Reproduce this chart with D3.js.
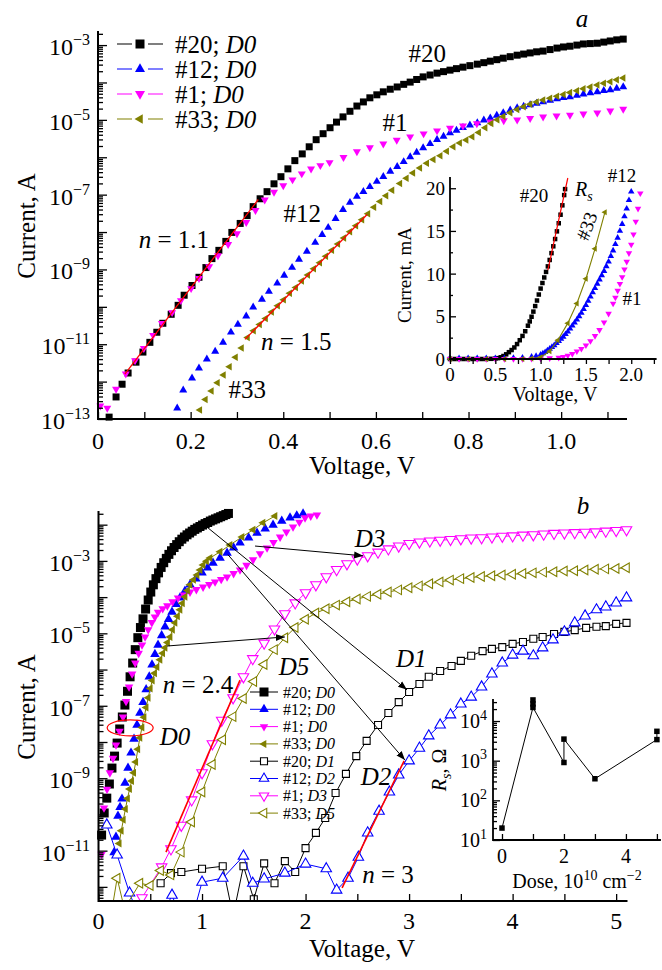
<!DOCTYPE html>
<html>
<head>
<meta charset="utf-8">
<title>I-V characteristics</title>
<script src="https://cdn.jsdelivr.net/npm/d3@7"></script>
<style>
  body { margin: 0; background: #fff; }
  svg { display: block; }
  svg text { font-family: "Liberation Serif", "DejaVu Serif", serif; }
</style>
</head>
<body>
<svg id="chart" width="662" height="970" font-family="Liberation Serif, DejaVu Serif, serif"></svg>
<script>
"use strict";

// ---------- panel a: [V, log10(I/A)], as-grown samples ----------
var a20 = [[0.024,-12.95],[0.039,-12.41],[0.052,-12.07],[0.065,-11.77],[0.082,-11.48],[0.097,-11.21],[0.112,-10.95],[0.127,-10.68],[0.140,-10.44],[0.158,-10.20],[0.173,-9.96],[0.186,-9.69],[0.203,-9.43],[0.218,-9.21],[0.233,-8.95],[0.246,-8.71],[0.261,-8.49],[0.276,-8.25],[0.289,-8.01],[0.307,-7.77],[0.322,-7.56],[0.335,-7.32],[0.350,-7.11],[0.365,-6.92],[0.380,-6.71],[0.395,-6.52],[0.410,-6.31],[0.425,-6.09],[0.441,-5.91],[0.456,-5.72],[0.471,-5.53],[0.486,-5.37],[0.501,-5.21],[0.515,-5.06],[0.529,-4.92],[0.544,-4.77],[0.559,-4.63],[0.573,-4.52],[0.587,-4.41],[0.602,-4.33],[0.616,-4.25],[0.631,-4.18],[0.646,-4.12],[0.660,-4.05],[0.674,-3.99],[0.688,-3.92],[0.702,-3.85],[0.717,-3.80],[0.732,-3.75],[0.746,-3.71],[0.760,-3.67],[0.774,-3.63],[0.788,-3.59],[0.803,-3.55],[0.819,-3.51],[0.833,-3.47],[0.847,-3.43],[0.861,-3.39],[0.875,-3.35],[0.890,-3.31],[0.905,-3.27],[0.919,-3.24],[0.933,-3.21],[0.947,-3.18],[0.961,-3.16],[0.976,-3.12],[0.991,-3.08],[1.005,-3.05],[1.019,-3.03],[1.034,-3.00],[1.048,-2.97],[1.063,-2.96],[1.078,-2.95],[1.092,-2.92],[1.106,-2.89],[1.120,-2.86],[1.134,-2.84]];
var a12 = [[0.171,-12.71],[0.184,-12.23],[0.203,-11.91],[0.218,-11.64],[0.235,-11.40],[0.253,-11.19],[0.270,-10.95],[0.287,-10.68],[0.302,-10.47],[0.320,-10.25],[0.335,-10.01],[0.354,-9.80],[0.369,-9.59],[0.387,-9.37],[0.402,-9.16],[0.419,-8.95],[0.434,-8.73],[0.451,-8.52],[0.469,-8.28],[0.484,-8.07],[0.497,-7.88],[0.513,-7.64],[0.529,-7.40],[0.544,-7.21],[0.559,-7.05],[0.573,-6.92],[0.587,-6.79],[0.602,-6.65],[0.616,-6.52],[0.631,-6.38],[0.646,-6.25],[0.660,-6.12],[0.674,-5.99],[0.688,-5.87],[0.702,-5.75],[0.717,-5.64],[0.732,-5.53],[0.746,-5.44],[0.760,-5.35],[0.774,-5.28],[0.788,-5.21],[0.803,-5.14],[0.819,-5.08],[0.833,-5.01],[0.847,-4.95],[0.861,-4.88],[0.875,-4.81],[0.890,-4.74],[0.905,-4.68],[0.919,-4.64],[0.933,-4.60],[0.947,-4.56],[0.961,-4.52],[0.976,-4.48],[0.991,-4.44],[1.005,-4.41],[1.019,-4.39],[1.034,-4.35],[1.048,-4.31],[1.063,-4.28],[1.078,-4.25],[1.092,-4.22],[1.106,-4.20],[1.120,-4.16],[1.134,-4.12]];
var a1 = [[0.005,-12.65],[0.020,-12.71],[0.039,-12.20],[0.060,-11.79],[0.080,-11.44],[0.099,-11.11],[0.119,-10.76],[0.138,-10.44],[0.160,-10.15],[0.179,-9.83],[0.201,-9.51],[0.218,-9.24],[0.240,-8.92],[0.259,-8.63],[0.281,-8.33],[0.300,-8.04],[0.320,-7.74],[0.340,-7.42],[0.360,-7.14],[0.380,-6.93],[0.400,-6.76],[0.420,-6.60],[0.440,-6.44],[0.460,-6.31],[0.480,-6.22],[0.500,-6.14],[0.530,-6.00],[0.559,-5.85],[0.587,-5.74],[0.616,-5.64],[0.645,-5.54],[0.674,-5.45],[0.703,-5.37],[0.732,-5.29],[0.760,-5.22],[0.788,-5.16],[0.818,-5.10],[0.847,-5.05],[0.876,-5.02],[0.905,-5.00],[0.933,-4.96],[0.961,-4.92],[0.990,-4.89],[1.019,-4.87],[1.048,-4.84],[1.078,-4.81],[1.106,-4.76],[1.134,-4.71]];
var a33 = [[0.220,-12.76],[0.232,-12.48],[0.245,-12.25],[0.258,-12.03],[0.271,-11.82],[0.284,-11.60],[0.297,-11.35],[0.310,-11.10],[0.323,-10.82],[0.336,-10.64],[0.349,-10.47],[0.362,-10.31],[0.375,-10.14],[0.388,-9.97],[0.401,-9.81],[0.414,-9.64],[0.427,-9.48],[0.440,-9.31],[0.453,-9.15],[0.466,-8.98],[0.479,-8.82],[0.492,-8.65],[0.505,-8.49],[0.518,-8.32],[0.531,-8.16],[0.544,-7.99],[0.557,-7.83],[0.570,-7.67],[0.583,-7.51],[0.596,-7.34],[0.609,-7.18],[0.622,-7.03],[0.635,-6.88],[0.652,-6.70],[0.666,-6.56],[0.680,-6.42],[0.695,-6.29],[0.710,-6.16],[0.724,-6.06],[0.739,-5.96],[0.753,-5.84],[0.767,-5.72],[0.781,-5.62],[0.795,-5.54],[0.808,-5.45],[0.822,-5.34],[0.836,-5.21],[0.849,-5.10],[0.862,-5.00],[0.875,-4.91],[0.890,-4.81],[0.905,-4.72],[0.919,-4.65],[0.933,-4.58],[0.947,-4.52],[0.961,-4.47],[0.976,-4.42],[0.991,-4.37],[1.005,-4.32],[1.019,-4.27],[1.034,-4.22],[1.048,-4.17],[1.063,-4.12],[1.078,-4.07],[1.092,-4.02],[1.106,-3.98],[1.120,-3.93],[1.134,-3.88]];
// ideality fits, [V, log10 I]
var fitA20 = [[0.058,-11.80],[0.346,-7.13]];
var fitA33 = [[0.3175,-10.87],[0.581,-7.53]];

// ---------- inset a: [V, I/mA], linear scale ----------
var in20 = [[0.00,0],[0.05,0],[0.10,0],[0.15,0],[0.20,0],[0.25,0],[0.30,0],[0.35,0],[0.40,0],[0.45,0.02],[0.50,0.05],[0.53,0.10],[0.56,0.20],[0.59,0.35],[0.62,0.55],[0.65,0.80],[0.68,1.05],[0.71,1.35],[0.74,1.75],[0.77,2.20],[0.80,2.70],[0.83,3.25],[0.86,3.90],[0.88,4.40],[0.90,4.95],[0.92,5.55],[0.94,6.20],[0.96,6.85],[0.98,7.55],[1.00,8.25],[1.02,8.90],[1.04,9.55],[1.06,10.20],[1.08,10.85],[1.10,11.60],[1.12,12.40],[1.14,13.20],[1.16,14.05],[1.18,14.95],[1.20,15.90],[1.22,16.90],[1.24,18.00],[1.26,19.20],[1.27,19.90]];
var in12 = [[0.00,0.10],[0.10,0.10],[0.20,0.10],[0.30,0.10],[0.40,0.10],[0.50,0.10],[0.60,0.10],[0.70,0.12],[0.80,0.15],[0.90,0.25],[0.95,0.35],[1.000,0.50],[1.025,0.65],[1.050,0.80],[1.075,1.00],[1.100,1.20],[1.125,1.40],[1.150,1.60],[1.175,1.85],[1.200,2.10],[1.225,2.35],[1.250,2.60],[1.275,2.90],[1.300,3.20],[1.325,3.55],[1.350,3.90],[1.375,4.25],[1.400,4.60],[1.425,5.00],[1.450,5.40],[1.475,5.85],[1.500,6.30],[1.525,6.80],[1.550,7.30],[1.575,7.80],[1.600,8.30],[1.625,8.80],[1.650,9.30],[1.675,9.80],[1.700,10.30],[1.725,10.85],[1.750,11.40],[1.775,12.05],[1.800,12.70],[1.825,13.45],[1.850,14.20],[1.875,15.00],[1.900,15.80],[1.925,16.70],[1.950,17.60],[1.975,18.60],[2.000,19.60]];
var in1 = [[0.00,0],[0.10,0],[0.20,0],[0.30,0],[0.40,0],[0.50,0],[0.60,0],[0.70,0],[0.80,0],[0.90,0.02],[1.00,0.05],[1.10,0.10],[1.20,0.15],[1.25,0.25],[1.30,0.40],[1.35,0.60],[1.40,0.90],[1.45,1.20],[1.50,1.60],[1.55,2.10],[1.60,2.70],[1.65,3.40],[1.70,4.30],[1.75,5.30],[1.80,6.50],[1.825,7.20],[1.85,8.00],[1.875,8.80],[1.90,9.60],[1.925,10.50],[1.95,11.40],[1.975,12.40],[2.00,13.40],[2.025,14.60],[2.05,16.10],[2.075,17.60],[2.10,19.40]];
var in33 = [[0.00,0],[0.20,0],[0.40,0],[0.60,0],[0.80,0],[0.90,0.05],[1.00,0.20],[1.10,0.90],[1.19,2.20],[1.30,4.20],[1.40,6.50],[1.50,9.40],[1.60,12.90],[1.71,17.20]];
var fitRs = [[1.08,10.4],[1.30,21.2]];

// ---------- panel b: [V, log10(I/A)], before (D0) and after irradiation ----------
var b20 = [[0.030,-10.57],[0.055,-9.96],[0.080,-9.55],[0.105,-9.16],[0.130,-8.72],[0.155,-8.39],[0.180,-8.03],[0.205,-7.64],[0.230,-7.31],[0.255,-6.98],[0.280,-6.60],[0.305,-6.20],[0.330,-5.82],[0.355,-5.45],[0.380,-5.12],[0.405,-4.84],[0.430,-4.60],[0.455,-4.33],[0.480,-4.08],[0.505,-3.86],[0.530,-3.66],[0.555,-3.49],[0.580,-3.33],[0.605,-3.18],[0.630,-3.05],[0.655,-2.93],[0.680,-2.82],[0.705,-2.72],[0.730,-2.63],[0.755,-2.55],[0.780,-2.47],[0.805,-2.40],[0.830,-2.34],[0.855,-2.28],[0.880,-2.23],[0.905,-2.18],[0.930,-2.13],[0.955,-2.09],[0.980,-2.05],[1.005,-2.01],[1.030,-1.97],[1.055,-1.94],[1.080,-1.90],[1.105,-1.87],[1.130,-1.84],[1.155,-1.81],[1.180,-1.78],[1.205,-1.75],[1.230,-1.72],[1.255,-1.69]];
var b12 = [[0.150,-11.05],[0.169,-10.62],[0.188,-10.04],[0.208,-9.80],[0.227,-9.57],[0.256,-9.13],[0.285,-8.72],[0.314,-8.30],[0.343,-7.92],[0.372,-7.53],[0.400,-7.20],[0.430,-6.90],[0.460,-6.55],[0.490,-6.20],[0.517,-5.87],[0.545,-5.58],[0.575,-5.32],[0.610,-5.06],[0.643,-4.82],[0.677,-4.61],[0.710,-4.41],[0.750,-4.20],[0.787,-4.02],[0.835,-3.83],[0.884,-3.66],[0.940,-3.49],[1.000,-3.33],[1.053,-3.19],[1.106,-3.06],[1.174,-2.92],[1.242,-2.78],[1.305,-2.64],[1.367,-2.50],[1.450,-2.36],[1.531,-2.23],[1.610,-2.11],[1.686,-2.01],[1.770,-1.90],[1.850,-1.81],[1.915,-1.75],[1.976,-1.70]];
var b1 = [[0.030,-11.10],[0.053,-9.82],[0.082,-9.30],[0.110,-8.85],[0.140,-8.45],[0.169,-8.08],[0.203,-7.70],[0.237,-7.31],[0.266,-6.88],[0.295,-6.48],[0.325,-6.12],[0.355,-5.82],[0.388,-5.55],[0.420,-5.32],[0.450,-5.10],[0.480,-4.90],[0.515,-4.70],[0.545,-4.55],[0.575,-4.42],[0.620,-4.32],[0.665,-4.24],[0.715,-4.13],[0.768,-4.02],[0.825,-3.94],[0.884,-3.86],[0.945,-3.79],[1.010,-3.72],[1.070,-3.65],[1.126,-3.58],[1.185,-3.51],[1.242,-3.44],[1.305,-3.35],[1.367,-3.25],[1.430,-3.12],[1.493,-2.97],[1.560,-2.80],[1.628,-2.64],[1.690,-2.49],[1.754,-2.34],[1.815,-2.20],[1.879,-2.06],[1.940,-1.93],[1.995,-1.81],[2.050,-1.76],[2.110,-1.73]];
var b33 = [[0.200,-10.80],[0.220,-10.45],[0.240,-10.15],[0.260,-9.85],[0.280,-9.56],[0.300,-9.30],[0.320,-9.08],[0.340,-8.85],[0.360,-8.55],[0.380,-8.20],[0.400,-7.88],[0.420,-7.60],[0.440,-7.32],[0.460,-7.05],[0.480,-6.78],[0.500,-6.52],[0.520,-6.30],[0.542,-6.10],[0.565,-5.93],[0.594,-5.73],[0.620,-5.55],[0.643,-5.40],[0.667,-5.25],[0.691,-5.10],[0.715,-4.90],[0.739,-4.71],[0.763,-4.53],[0.787,-4.35],[0.811,-4.17],[0.836,-3.99],[0.860,-3.82],[0.884,-3.66],[0.918,-3.52],[0.952,-3.39],[0.981,-3.25],[1.010,-3.11],[1.043,-3.01],[1.077,-2.92],[1.174,-2.75],[1.270,-2.56],[1.386,-2.34],[1.493,-2.14],[1.589,-1.95],[1.705,-1.76]];
var b20d1 = [[0.60,-11.90],[0.70,-11.62],[0.80,-11.59],[1.00,-11.50],[1.20,-11.43],[1.30,-12.80],[1.40,-11.43],[1.50,-12.34],[1.60,-11.35],[1.70,-11.90],[1.80,-11.29],[1.90,-11.59],[2.00,-10.93],[2.10,-10.51],[2.19,-10.10],[2.29,-9.41],[2.39,-8.88],[2.49,-8.39],[2.59,-7.97],[2.70,-7.53],[2.80,-7.20],[2.90,-6.90],[3.00,-6.62],[3.10,-6.40],[3.19,-6.20],[3.30,-6.04],[3.41,-5.90],[3.50,-5.76],[3.60,-5.62],[3.71,-5.49],[3.80,-5.43],[3.90,-5.38],[4.00,-5.29],[4.10,-5.24],[4.20,-5.15],[4.29,-5.10],[4.40,-5.02],[4.50,-4.96],[4.60,-4.91],[4.71,-4.85],[4.81,-4.82],[4.90,-4.80],[5.00,-4.74],[5.10,-4.71]];
var b12d2 = [[0.08,-10.29],[0.18,-11.12],[0.30,-12.17],[0.40,-12.90],[0.50,-12.90],[0.60,-12.90],[0.71,-12.23],[0.80,-12.90],[0.90,-12.90],[1.00,-11.87],[1.20,-11.76],[1.40,-11.15],[1.49,-11.90],[1.60,-11.78],[1.80,-11.62],[2.00,-11.37],[2.20,-11.50],[2.30,-12.09],[2.41,-11.76],[2.51,-11.18],[2.60,-10.51],[2.71,-9.91],[2.81,-9.38],[2.90,-8.91],[3.00,-8.52],[3.10,-8.17],[3.19,-7.83],[3.30,-7.53],[3.40,-7.25],[3.50,-6.95],[3.60,-6.76],[3.70,-6.48],[3.80,-6.12],[3.90,-5.82],[4.00,-5.60],[4.10,-5.49],[4.20,-5.62],[4.29,-5.40],[4.39,-5.18],[4.50,-4.96],[4.60,-4.71],[4.70,-4.52],[4.81,-4.35],[4.90,-4.27],[5.00,-4.16],[5.10,-4.02]];
var b1d3 = [[0.42,-12.30],[0.61,-11.45],[0.70,-10.95],[0.80,-10.30],[0.90,-9.60],[1.00,-8.85],[1.10,-8.05],[1.19,-7.40],[1.30,-6.78],[1.40,-6.20],[1.49,-5.70],[1.60,-5.27],[1.70,-4.88],[1.80,-4.46],[1.90,-4.16],[2.00,-3.88],[2.10,-3.66],[2.20,-3.44],[2.30,-3.24],[2.40,-3.08],[2.50,-2.95],[2.60,-2.86],[2.70,-2.76],[2.80,-2.67],[2.90,-2.59],[3.00,-2.52],[3.10,-2.48],[3.20,-2.45],[3.30,-2.43],[3.40,-2.41],[3.50,-2.39],[3.60,-2.37],[3.70,-2.36],[3.80,-2.34],[3.90,-2.32],[4.00,-2.31],[4.10,-2.29],[4.20,-2.28],[4.30,-2.26],[4.40,-2.24],[4.50,-2.23],[4.60,-2.22],[4.70,-2.21],[4.80,-2.20],[4.90,-2.18],[5.00,-2.16],[5.10,-2.14]];
var b33d5 = [[0.12,-12.80],[0.18,-11.76],[0.25,-12.60],[0.40,-11.90],[0.50,-11.96],[0.60,-11.55],[0.70,-11.67],[0.80,-11.04],[0.90,-10.21],[1.00,-9.38],[1.10,-8.62],[1.20,-7.94],[1.30,-7.30],[1.40,-6.80],[1.50,-6.33],[1.60,-5.86],[1.70,-5.45],[1.80,-5.12],[1.90,-4.84],[2.00,-4.61],[2.10,-4.44],[2.20,-4.32],[2.30,-4.22],[2.40,-4.13],[2.50,-4.05],[2.60,-3.98],[2.70,-3.92],[2.80,-3.86],[2.90,-3.80],[3.00,-3.74],[3.10,-3.69],[3.20,-3.63],[3.30,-3.58],[3.40,-3.53],[3.50,-3.49],[3.60,-3.46],[3.70,-3.43],[3.80,-3.41],[3.90,-3.39],[4.00,-3.37],[4.10,-3.35],[4.20,-3.33],[4.30,-3.31],[4.40,-3.30],[4.50,-3.28],[4.60,-3.27],[4.70,-3.25],[4.80,-3.23],[4.90,-3.22],[5.00,-3.21],[5.10,-3.19]];
var fitB1 = [[0.652,-11.04],[1.367,-6.29]];
var fitB12 = [[2.353,-12.03],[2.952,-8.52]];
// arrows D0 -> irradiated curve, [from, to] in [V, log10 I]
var arrowsB = [[[1.058,-2.09],[2.98,-6.56]],[[1.251,-2.83],[2.96,-8.50]],[[1.512,-2.59],[2.556,-2.86]],[[0.662,-5.35],[1.80,-5.10]]];

// ---------- inset b: series resistance vs dose ----------
var dose = [0, 1, 1, 1, 2, 2, 3, 5, 5];
var rs = [20, 22000, 27000, 34000, 900, 3500, 350, 3400, 5500];
var rsPathOrder = [0, 1, 4, 5, 6, 7, 8];

// tick labels
var aXTicks = [0, 0.2, 0.4, 0.6, 0.8, 1.0];
var aYExp = [-13, -11, -9, -7, -5, -3];
var bXTicks = [0, 1, 2, 3, 4, 5];
var bYExp = [-11, -9, -7, -5, -3];
var iaXTicks = [0, 0.5, 1.0, 1.5, 2.0];
var iaYTicks = [0, 5, 10, 15, 20];
var ibXTicks = [0, 2, 4];
var ibYExp = [1, 2, 3, 4];

var BLACK = "#000000", BLUE = "#0000ff", PINK = "#ff00ff", OLIVE = "#808000", RED = "#ff0000";
var SERIF = "Liberation Serif, DejaVu Serif, serif";

var svg = d3.select("#chart");

var xA = d3.scaleLinear().domain([0, 1.14]).range([98, 626]);
var yA = d3.scaleLog().domain([1e-13, Math.pow(10, -2.65)]).range([419, 32]);
var xB = d3.scaleLinear().domain([0, 5.1]).range([98.5, 626.5]);
var yB = d3.scaleLog().domain([Math.pow(10, -12.39), Math.pow(10, -1.65)]).range([901, 512]);
var xI = d3.scaleLinear().domain([0, 2.27]).range([450, 655.7]);
var yI = d3.scaleLinear().domain([0, 21.2]).range([359, 178]);
var xR = d3.scaleLinear().domain([-0.29, 5.1]).range([493, 660]);
var yR = d3.scaleLog().domain([10, Math.pow(10, 4.53)]).range([840, 700]);

var shapes = {
	square: [d3.symbolSquare, 1, 0],
	up: [d3.symbolTriangle, 0.433, 0],
	down: [d3.symbolTriangle, 0.433, 180],
	left: [d3.symbolTriangle, 0.433, -90]
};

var glyph = function (shape, w) {
	return d3.symbol().type(shapes[shape][0]).size(shapes[shape][1] * w * w)();
};

var markers = function (g, data, px, py, st) {
	g.selectAll(null).data(data).enter()
		.append("path")
		.attr("d", glyph(st.shape, st.size))
		.attr("transform", function (d) {
			return "translate(" + px(d) + "," + py(d) + ") rotate(" + shapes[st.shape][2] + ")";
		})
		.attr("fill", st.open ? "#fff" : st.color)
		.attr("stroke", st.open ? st.color : "none")
		.attr("stroke-width", 1.1);
};

var trace = function (g, data, px, py, color, w) {
	g.append("path").datum(data)
		.attr("d", d3.line().x(px).y(py))
		.attr("fill", "none")
		.attr("stroke", color)
		.attr("stroke-width", w || 1);
};

// text with italic / super / subscript parts
var rich = function (g, x, y, parts, size, anchor, rot) {
	var t = g.append("text")
		.attr("x", x).attr("y", y)
		.attr("font-family", SERIF)
		.attr("font-size", size + "px")
		.attr("text-anchor", anchor || "middle");
	if (rot) {
		t.attr("transform", "rotate(" + rot + "," + x + "," + y + ")");
	}
	var shift = 0;
	parts.forEach(function (p) {
		var kind = p[1] || "";
		var lift = kind.indexOf("sup") >= 0 ? -0.42 * size : (kind.indexOf("sub") >= 0 ? 0.24 * size : 0);
		var s = t.append("tspan").text(p[0]).attr("dy", lift - shift);
		shift = lift;
		if (kind.indexOf("i") >= 0) {
			s.attr("font-style", "italic");
		}
		if (lift !== 0) {
			s.attr("font-size", Math.round(size * 0.68) + "px");
		}
	});
	return t;
};

var plain = function (g, x, y, str, size, anchor) {
	return g.append("text").attr("x", x).attr("y", y)
		.attr("font-family", SERIF).attr("font-size", size + "px")
		.attr("text-anchor", anchor || "middle").text(str);
};

var tidy = function (sel) {
	sel.select(".domain").remove();
	sel.selectAll(".tick text").remove();
	sel.selectAll(".tick line").attr("stroke", "#000").attr("stroke-width", 1.3);
};

var ticksY = function (g, y, x0, values, size) {
	g.append("g").attr("transform", "translate(" + x0 + ",0)")
		.call(d3.axisRight(y).tickValues(values).tickSize(size).tickSizeOuter(0))
		.call(tidy);
};

var ticksX = function (g, x, y0, values, size) {
	var ax = size > 0 ? d3.axisTop(x) : d3.axisBottom(x);
	g.append("g").attr("transform", "translate(0," + y0 + ")")
		.call(ax.tickValues(values).tickSize(Math.abs(size)).tickSizeOuter(0))
		.call(tidy);
};

var decades = function (y) {
	var dom = y.domain(), maj = [], min = [];
	var lo = Math.floor(Math.log10(dom[0]) + 1e-9), hi = Math.ceil(Math.log10(dom[1]));
	for (var e = lo; e <= hi; e++) {
		var p = Math.pow(10, e);
		if (p >= dom[0] * 0.999 && p <= dom[1] * 1.001) {
			maj.push(p);
		}
		for (var k = 2; k < 10; k++) {
			if (k * p >= dom[0] && k * p <= dom[1]) {
				min.push(k * p);
			}
		}
	}
	return [maj, min];
};

var frame = function (g, x, y, w) {
	var xr = x.range(), yr = y.range();
	g.append("path")
		.attr("d", "M" + xr[0] + "," + yr[1] + "V" + yr[0] + "H" + xr[1])
		.attr("fill", "none")
		.attr("stroke", "#000")
		.attr("stroke-width", w)
		.attr("stroke-linecap", "square");
};

var pow = function (v) { return Math.pow(10, v); };

svg.append("defs").append("marker")
	.attr("id", "head").attr("viewBox", "0 0 10 10")
	.attr("refX", 10).attr("refY", 5)
	.attr("markerWidth", 9).attr("markerHeight", 9)
	.attr("markerUnits", "userSpaceOnUse").attr("orient", "auto")
	.append("path").attr("d", "M0,1.2L10,5L0,8.8Z").attr("fill", "#000");

svg.select("defs").append("clipPath").attr("id", "clipB")
	.append("rect").attr("x", 88).attr("y", 490).attr("width", 545).attr("height", 411);

// ================= panel a =================
var ga = svg.append("g");
var pxA = function (d) { return xA(d[0]); };
var pyA = function (d) { return yA(pow(d[1])); };

var seriesA = [
	{ data: a20, color: BLACK, shape: "square", size: 7, name: "#20" },
	{ data: a12, color: BLUE, shape: "up", size: 8, name: "#12" },
	{ data: a1, color: PINK, shape: "down", size: 8, name: "#1" },
	{ data: a33, color: OLIVE, shape: "left", size: 7.5, name: "#33" }
];
seriesA.forEach(function (s) {
	markers(ga, s.data, pxA, pyA, s);
});
trace(ga, fitA20, pxA, pyA, RED, 1.3);
trace(ga, fitA33, pxA, pyA, RED, 1.3);

var aTicks = decades(yA);
ticksY(ga, yA, 98, aTicks[0], 9);
ticksY(ga, yA, 98, aTicks[1], 5);
ticksX(ga, xA, 419, d3.range(0, 1.15, 0.1), 7);
frame(ga, xA, yA, 2);

aYExp.forEach(function (e) {
	rich(ga, 90, yA(pow(e)) + 10, [["10", ""], ["\u2212" + Math.abs(e), "sup"]], 24, "end");
});
aXTicks.forEach(function (v) {
	plain(ga, xA(v), 449, v === 0 ? "0" : v.toFixed(1), 24);
});
rich(ga, 35, 226, [["Current, A", ""]], 25, "middle", -90);
rich(ga, 362, 474, [["Voltage, V", ""]], 25, "middle");

// legend a
seriesA.forEach(function (s, i) {
	var cy = 44 + i * 25;
	ga.append("path").attr("d", "M117," + cy + "H132M148," + cy + "H163")
		.attr("stroke", s.color).attr("stroke-width", 1.2);
	markers(ga, [[140, cy]], function (d) { return d[0]; }, function (d) { return d[1]; },
		{ shape: s.shape, size: s.size + 2, color: s.color });
	rich(ga, 175, cy + 9, [[s.name + "; ", ""], ["D0", "i"]], 25, "start");
});

// annotations a, placed at [V, log10 I]
var notesA = [
	{ at: [1.045, -2.52], parts: [["a", "i"]] },
	{ at: [0.711, -3.45], parts: [["#20", ""]] },
	{ at: [0.641, -5.29], parts: [["#1", ""]] },
	{ at: [0.441, -7.72], parts: [["#12", ""]] },
	{ at: [0.164, -8.44], parts: [["n", "i"], [" = 1.1", ""]] },
	{ at: [0.428, -11.16], parts: [["n", "i"], [" = 1.5", ""]] },
	{ at: [0.322, -12.44], parts: [["#33", ""]] }
];
notesA.forEach(function (n) {
	rich(ga, pxA(n.at), pyA(n.at), n.parts, 25, "middle");
});

// ================= inset a =================
var gi = svg.append("g");
var pxI = function (d) { return xI(d[0]); };
var pyI = function (d) { return yI(d[1]); };
markers(gi, in20, pxI, pyI, { shape: "square", size: 4.5, color: BLACK });
markers(gi, in12, pxI, pyI, { shape: "up", size: 6.5, color: BLUE });
markers(gi, in1, pxI, pyI, { shape: "down", size: 6.5, color: PINK });
trace(gi, in33, pxI, pyI, OLIVE, 1.1);
markers(gi, in33, pxI, pyI, { shape: "left", size: 6, color: OLIVE });
trace(gi, fitRs, pxI, pyI, RED, 1.2);

ticksY(gi, yI, 450, iaYTicks, 6);
ticksY(gi, yI, 450, [2.5, 7.5, 12.5, 17.5], 3);
ticksX(gi, xI, 359, d3.range(0, 2.3, 0.25), -5);
frame(gi, xI, yI, 1.8);
iaYTicks.forEach(function (v) {
	plain(gi, 445, yI(v) + 7, String(v), 19, "end");
});
iaXTicks.forEach(function (v) {
	plain(gi, xI(v), 381, v === 0 ? "0" : v.toFixed(1), 19);
});
rich(gi, 411, 275, [["Current, mA", ""]], 19, "middle", -90);
rich(gi, 555, 401, [["Voltage, V", ""]], 20, "middle");
rich(gi, pxI([0.927, 0]), pyI([0, 18.36]), [["#20", ""]], 19, "middle");
rich(gi, pxI([1.38, 0]), pyI([0, 19.06]), [["R", "i"], ["s", "isub"]], 20, "start");
rich(gi, pxI([1.898, 0]), pyI([0, 20.7]), [["#12", ""]], 19, "middle");
rich(gi, pxI([2.009, 0]), pyI([0, 6.3]), [["#1", ""]], 19, "middle");
rich(gi, pxI([1.512, 0]) + 6, pyI([0, 15.3]), [["#33", ""]], 19, "middle", -70);

// ================= panel b =================
var gb = svg.append("g");
var pxB = function (d) { return xB(d[0]); };
var pyB = function (d) { return yB(pow(d[1])); };
var plotB = gb.append("g").attr("clip-path", "url(#clipB)");

var seriesB = [
	{ data: b20, color: BLACK, shape: "square", size: 9, name: "#20", dose: "D0" },
	{ data: b12, color: BLUE, shape: "up", size: 9.5, name: "#12", dose: "D0" },
	{ data: b1, color: PINK, shape: "down", size: 8.5, name: "#1", dose: "D0" },
	{ data: b33, color: OLIVE, shape: "left", size: 8, name: "#33", dose: "D0", line: true },
	{ data: b20d1, color: BLACK, shape: "square", size: 7, open: true, name: "#20", dose: "D1", line: true },
	{ data: b12d2, color: BLUE, shape: "up", size: 10.5, open: true, name: "#12", dose: "D2", line: true },
	{ data: b1d3, color: PINK, shape: "down", size: 10.5, open: true, name: "#1", dose: "D3", line: true },
	{ data: b33d5, color: OLIVE, shape: "left", size: 9.5, open: true, name: "#33", dose: "D5", line: true }
];
seriesB.forEach(function (s) {
	if (s.line) {
		trace(plotB, s.data, pxB, pyB, s.color, 1);
	}
	markers(plotB, s.data, pxB, pyB, s);
});
trace(plotB, fitB1, pxB, pyB, RED, 1.6);
trace(plotB, fitB12, pxB, pyB, RED, 1.6);

arrowsB.forEach(function (a) {
	gb.append("line")
		.attr("x1", pxB(a[0])).attr("y1", pyB(a[0]))
		.attr("x2", pxB(a[1])).attr("y2", pyB(a[1]))
		.attr("stroke", "#000").attr("stroke-width", 1)
		.attr("marker-end", "url(#head)");
});

gb.append("ellipse")
	.attr("cx", pxB([0.306, 0])).attr("cy", pyB([0, -7.61]))
	.attr("rx", 23).attr("ry", 8)
	.attr("fill", "none").attr("stroke", RED).attr("stroke-width", 1.2);

var bTicks = decades(yB);
ticksY(gb, yB, 98.5, bTicks[0], 9);
ticksY(gb, yB, 98.5, bTicks[1], 5);
ticksX(gb, xB, 901, d3.range(0, 5.1, 0.5), 7);
frame(gb, xB, yB, 2);

bYExp.forEach(function (e) {
	rich(gb, 90, yB(pow(e)) + 10, [["10", ""], ["\u2212" + Math.abs(e), "sup"]], 24, "end");
});
bXTicks.forEach(function (v) {
	plain(gb, xB(v), 929, String(v), 24);
});
rich(gb, 35, 707, [["Current, A", ""]], 25, "middle", -90);
rich(gb, 362, 957, [["Voltage, V", ""]], 25, "middle");

// legend b
seriesB.forEach(function (s, i) {
	var cy = 692 + i * 17.3;
	gb.append("path").attr("d", "M250," + cy + "H278")
		.attr("stroke", s.color).attr("stroke-width", 1);
	markers(gb, [[264, cy]], function (d) { return d[0]; }, function (d) { return d[1]; },
		{ shape: s.shape, size: Math.min(s.size, 9.5), color: s.color, open: s.open });
	rich(gb, 283, cy + 5.5, [[s.name + "; ", ""], [s.dose, "i"]], 16, "start");
});

var notesB = [
	{ at: [4.68, -1.70], parts: [["b", "i"]] },
	{ at: [2.623, -2.61], parts: [["D3", "i"]] },
	{ at: [3.02, -5.93], parts: [["D1", "i"]] },
	{ at: [2.681, -9.19], parts: [["D2", "i"]] },
	{ at: [1.889, -6.15], parts: [["D5", "i"]] },
	{ at: [0.739, -8.08], parts: [["D0", "i"]] },
	{ at: [0.961, -6.65], parts: [["n", "i"], [" = 2.4", ""]] },
	{ at: [2.797, -11.90], parts: [["n", "i"], [" = 3", ""]] }
];
notesB.forEach(function (n) {
	rich(gb, pxB(n.at), pyB(n.at), n.parts, 25, "middle");
});

// ================= inset b =================
var gr = svg.append("g");
var rsPts = dose.map(function (d, i) { return [d, rs[i]]; });
var pxR = function (d) { return xR(d[0]); };
var pyR = function (d) { return yR(d[1]); };
trace(gr, rsPathOrder.map(function (i) { return rsPts[i]; }), pxR, pyR, BLACK, 1);
trace(gr, [rsPts[1], rsPts[3]], pxR, pyR, BLACK, 1);
markers(gr, rsPts, pxR, pyR, { shape: "square", size: 5.5, color: BLACK });

var rTicks = decades(yR);
ticksY(gr, yR, 493, rTicks[0], 7);
ticksY(gr, yR, 493, rTicks[1], 4);
ticksX(gr, xR, 840, [0, 1, 2, 3, 4, 5], 6);
frame(gr, xR, yR, 1.8);
ibYExp.forEach(function (e) {
	rich(gr, 487, yR(pow(e)) + 7, [["10", ""], [String(e), "sup"]], 20, "end");
});
ibXTicks.forEach(function (v) {
	plain(gr, xR(v), 863, String(v), 20);
});
rich(gr, 446, 770, [["R", "i"], ["s", "isub"], [", \u03a9", ""]], 20, "middle", -90);
rich(gr, 577, 888, [["Dose, 10", ""], ["10", "sup"], [" cm", ""], ["\u22122", "sup"]], 20, "middle");
</script>
</body>
</html>
